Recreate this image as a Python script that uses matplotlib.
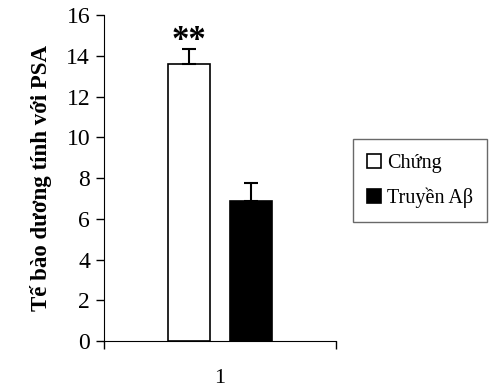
import matplotlib.pyplot as plt
import numpy as np

# data
groups = ["1"]
series = ["Chứng", "Truyền Aβ"]
values = [13.6, 6.85]
errors = [0.75, 0.9]
colors = ["white", "black"]

plt.rcParams['font.family'] = ['Liberation Serif', 'DejaVu Serif']

fig = plt.figure(figsize=(4.93, 3.89), dpi=100)
ax = fig.add_axes([0.211, 0.1234, 0.4705, 0.838])

width = 0.181
offsets = [-0.135, 0.135]
x = np.arange(len(groups)) + 1
for i in range(len(series)):
    ax.bar(x + offsets[i], [values[i]], width, yerr=[[0], [errors[i]]],
           color=colors[i], edgecolor='black', linewidth=1.2,
           error_kw=dict(ecolor='black', elinewidth=1.5, capsize=5, capthick=1.5),
           label=series[i])

# significance mark
ax.text(x[0] + offsets[0], values[0] + errors[0] - 0.45, "**", ha='center', va='bottom',
        fontsize=25, fontweight='bold')

ax.set_xlim(0.5, 1.5)
ax.set_ylim(0, 16)
ax.set_yticks(range(0, 17, 2))
ax.tick_params(axis='y', direction='out', length=6, width=1, labelsize=17, pad=4)
ax.set_xticks([0.5, 1.5])
ax.set_xticklabels([])
ax.tick_params(axis='x', direction='out', length=6, width=1)
ax.text(1.0, -0.085, groups[0], transform=ax.get_xaxis_transform(), ha='center', va='top',
        fontsize=16)
ax.spines['top'].set_visible(False)
ax.spines['right'].set_visible(False)
ax.set_ylabel("Tế bào dương tính với PSA", fontsize=16.5, fontweight='bold', labelpad=10)

leg = fig.legend(loc='center left', bbox_to_anchor=(0.716, 0.535), fontsize=14.5,
                 frameon=True, fancybox=False, edgecolor='#444444',
                 handlelength=0.7, handleheight=0.7, handletextpad=0.3,
                 borderpad=0.7, labelspacing=0.75, borderaxespad=0)
leg.get_frame().set_linewidth(1.0)

fig.savefig("out.png", dpi=100)
